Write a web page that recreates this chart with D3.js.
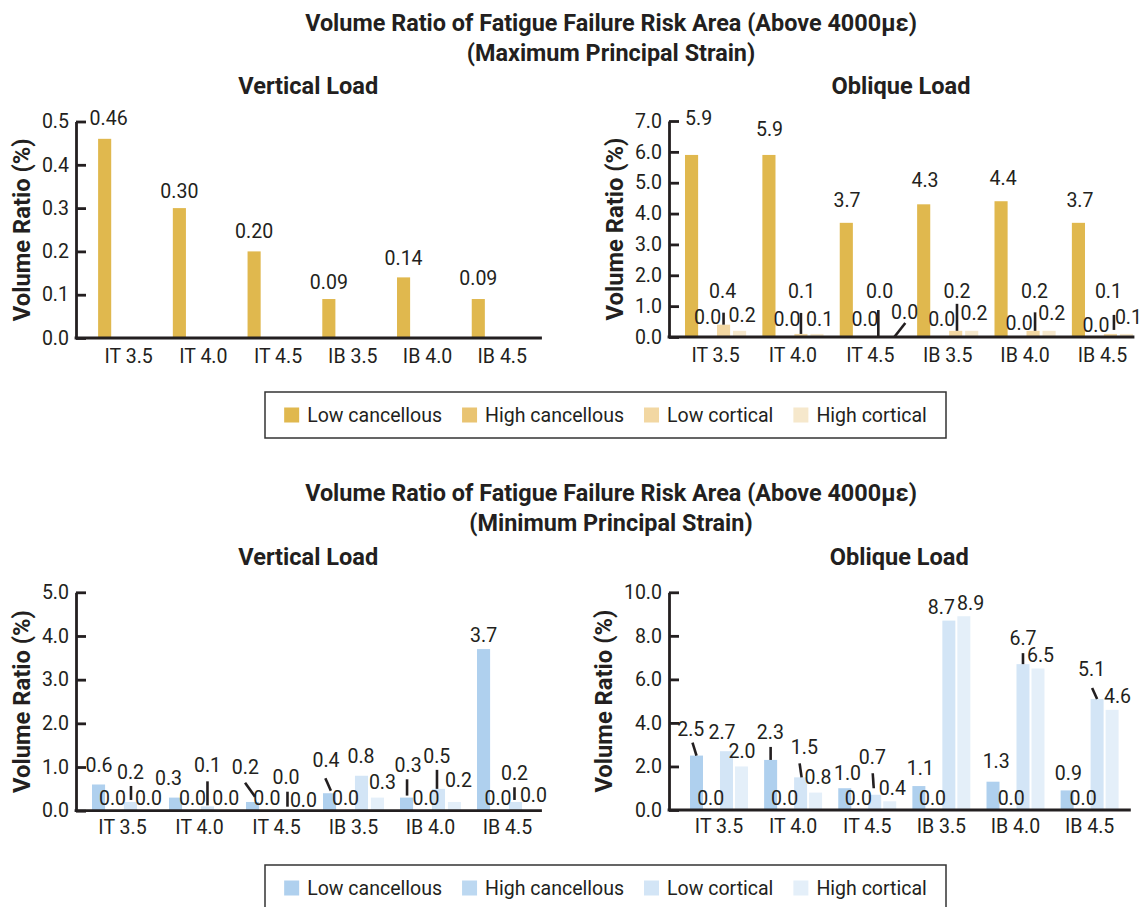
<!DOCTYPE html>
<html>
<head>
<meta charset="utf-8">
<script src="https://cdn.jsdelivr.net/npm/d3@7"></script>
<style>
  html, body { margin: 0; padding: 0; background: #fff; }
  svg { display: block; }
  text { font-family: Roboto, "Noto Sans", sans-serif; fill: #231f20; }
</style>
</head>
<body>
<svg id="fig" width="1143" height="907"></svg>
<script>
// ---------- data ----------
const categories = ["IT 3.5", "IT 4.0", "IT 4.5", "IB 3.5", "IB 4.0", "IB 4.5"];
const seriesNames = ["Low cancellous", "High cancellous", "Low cortical", "High cortical"];

// Maximum principal strain, vertical load (only low cancellous reported)
const maxVertLowCanc  = [0.46, 0.30, 0.20, 0.09, 0.14, 0.09];
const maxVertHighCanc = [null, null, null, null, null, null];
const maxVertLowCort  = [null, null, null, null, null, null];
const maxVertHighCort = [null, null, null, null, null, null];

// Maximum principal strain, oblique load
const maxOblLowCanc  = [5.9, 5.9, 3.7, 4.3, 4.4, 3.7];
const maxOblHighCanc = [0.0, 0.0, 0.0, 0.0, 0.0, 0.0];
const maxOblLowCort  = [0.4, 0.1, 0.0, 0.2, 0.2, 0.1];
const maxOblHighCort = [0.2, 0.1, 0.0, 0.2, 0.2, 0.1];

// Minimum principal strain, vertical load
const minVertLowCanc  = [0.6, 0.3, 0.2, 0.4, 0.3, 3.7];
const minVertHighCanc = [0.0, 0.0, 0.0, 0.0, 0.0, 0.0];
const minVertLowCort  = [0.2, 0.1, 0.0, 0.8, 0.5, 0.2];
const minVertHighCort = [0.0, 0.0, 0.0, 0.3, 0.2, 0.0];

// Minimum principal strain, oblique load
const minOblLowCanc  = [2.5, 2.3, 1.0, 1.1, 1.3, 0.9];
const minOblHighCanc = [0.0, 0.0, 0.0, 0.0, 0.0, 0.0];
const minOblLowCort  = [2.7, 1.5, 0.7, 8.7, 6.7, 5.1];
const minOblHighCort = [2.0, 0.8, 0.4, 8.9, 6.5, 4.6];

// ---------- value-label placement ----------
// per category, per series: [dx, dy] from the bar-top centre,
// optionally followed by a leader line [x1, y1, x2, y2] in the same frame
const maxVertLabelPos = [
  [[4, -20.5], null, null, null],
  [[0, -17.4], null, null, null],
  [[0, -20.4], null, null, null],
  [[0, -17.3], null, null, null],
  [[0, -19.0], null, null, null],
  [[0, -20.7], null, null, null]
];
const maxOblLabelPos = [
  [[7, -36.7], [0, -20.3], [-1, -33.7, 0, -12, 0, 0], [2.5, -15.8]],
  [[0.6, -25.7], [2, -17.7], [0.7, -42.9, 0, -21, 0, 0], [2.7, -14.6]],
  [[0.7, -22.8], [2.7, -17.7], [1.3, -46, 0, -27, 0, 0], [10.3, -25.3, 11, -14, 0, 0]],
  [[1.3, -24.3], [2, -17.7], [1.3, -39.8, 1.3, -27, 1.3, 0], [2.3, -18.1]],
  [[2, -22.9], [2, -13.7], [1.4, -39.8, 2, -18.5, 2, 0], [2.7, -18.1]],
  [[1.5, -22.8], [1.5, -12], [-2, -42.9, 3.5, -19, 3.5, -4], [2, -17.2]]
];
const minVertLabelPos = [
  [[0.5, -19.5], [-2, -12.4], [0, -30.3, 0.5, -16, 0.5, -2], [2, -12.4]],
  [[-7, -19.3], [1, -12.4], [0, -41.3, 0, -25, 0, -1], [2.3, -12.4]],
  [[-7.2, -35.3, -7.5, -19.3, 2.5, -5.3], [-1.7, -12.4], [1.5, -34, 3, -19, 3, -4], [3, -10.7]],
  [[-3.5, -33.2, -4.2, -14.9, 1.3, -2.5], [0, -12.4], [-0.5, -20], [5, -15]],
  [[1.5, -32.6, 0.5, -18.3, 0.5, -2], [3.5, -12.4], [-1.7, -32.9, -1.5, -19, -1.5, 0], [4, -22]],
  [[0, -14], [-1.5, -12.4], [-1, -28.7, -1, -14.7, -1, -2], [2, -15.7]]
];
const minOblLabelPos = [
  [[-5.7, -26.6, -4, -13, 0, 0], [-0.8, -11.7], [-4.5, -19.5], [0.5, -15.8]],
  [[-0.3, -28.2, 0, -13, 0, 0], [-1, -11.7], [3.8, -30, -1, -14, 1, 0], [2.4, -15.3]],
  [[2.8, -14.9], [-1.4, -11.7], [-2.4, -38.1, -2, -21.5, -1, -6.5], [2.7, -13]],
  [[1.5, -18.3], [-1.4, -11.7], [-7.5, -13], [6.8, -13]],
  [[3.2, -21], [3.2, -11.7], [0, -25.8, 0, -11, 0, 0], [2.5, -13]],
  [[1.2, -17.1], [1, -11.7], [-5.5, -29.7, -5, -11, 0, 0], [5.4, -13.2]]
];

// ---------- styles ----------
const INK = "#231f20";
const goldPalette = ["#e0b84e", "#e9c472", "#f2d7a2", "#f6e8cc"];
const bluePalette = ["#afd0ee", "#bcd8f1", "#d3e5f6", "#e4eff9"];
const headline = "Volume Ratio of Fatigue Failure Risk Area (Above 4000\u03bc\u03b5)";

const svg = d3.select("#fig");

function measure(str, weight, size) {
  const t = svg.append("text").attr("font-weight", weight).attr("font-size", size).text(str);
  const w = t.node().getComputedTextLength();
  t.remove();
  return w;
}
const regSize = 20 * 135 / measure("Low cancellous", 400, 20);
const panelTitleSize = 20 * 140 / measure("Vertical Load", 700, 20);
const headSize = 20 * 612 / measure(headline, 700, 20);
const yTitleSize = 20 * 183 / measure("Volume Ratio (%)", 700, 20);

// ---------- panels ----------
const panels = [
  { title: "Vertical Load", series: [maxVertLowCanc, maxVertHighCanc, maxVertLowCort, maxVertHighCort],
    palette: goldPalette, yMax: 0.5, nTicks: 5, valueFmt: ".2f", labelPos: maxVertLabelPos,
    axisX: 76, axisEnd: 540.5, y0: 338, yTop: 121.5, band: [98.1, 532.8], padInner: 0.183, subPad: 0.18,
    titleY: 86, catDy: 18, yTitleDx: -54 },
  { title: "Oblique Load", series: [maxOblLowCanc, maxOblHighCanc, maxOblLowCort, maxOblHighCort],
    palette: goldPalette, yMax: 7, nTicks: 7, valueFmt: ".1f", labelPos: maxOblLabelPos,
    axisX: 669, axisEnd: 1133, y0: 337, yTop: 121, band: [685, 1133], padInner: 0.21, subPad: 0.18,
    titleY: 86, catDy: 18, yTitleDx: -54 },
  { title: "Vertical Load", series: [minVertLowCanc, minVertHighCanc, minVertLowCort, minVertHighCort],
    palette: bluePalette, yMax: 5, nTicks: 5, valueFmt: ".1f", labelPos: minVertLabelPos,
    axisX: 76, axisEnd: 540.5, y0: 810.7, yTop: 592.3, band: [92, 538], padInner: 0.208, subPad: 0.18,
    titleY: 557, catDy: 16, yTitleDx: -54 },
  { title: "Oblique Load", series: [minOblLowCanc, minOblHighCanc, minOblLowCort, minOblHighCort],
    palette: bluePalette, yMax: 10, nTicks: 5, valueFmt: ".1f", labelPos: minOblLabelPos,
    axisX: 669, axisEnd: 1129.4, y0: 810, yTop: 592.3, band: [690, 1118.6], padInner: 0.218, subPad: 0.133,
    titleY: 557, catDy: 16, yTitleDx: -65 }
];

panels.forEach(p => {
  const g = svg.append("g");
  const y = d3.scaleLinear().domain([0, p.yMax]).range([p.y0, p.yTop]);
  const x0 = d3.scaleBand().domain(categories).range(p.band).paddingInner(p.padInner).paddingOuter(0);
  const x1 = d3.scaleBand().domain(seriesNames).range([0, x0.bandwidth()]).paddingInner(p.subPad).paddingOuter(0);
  const fmt = d3.format(p.valueFmt);

  // panel title
  g.append("text")
    .attr("x", (p.axisX + p.axisEnd) / 2).attr("y", p.titleY).attr("dy", "0.35em")
    .attr("text-anchor", "middle").attr("font-weight", 700).attr("font-size", panelTitleSize)
    .text(p.title);

  // bars
  const rows = categories.map((cat, i) => ({ cat, i, vals: p.series.map(s => s[i]) }));
  const groups = g.selectAll("g.grp").data(rows).join("g")
    .attr("class", "grp").attr("transform", d => `translate(${x0(d.cat)},0)`);
  groups.selectAll("rect")
    .data(d => d.vals.map((v, j) => ({ v, j })).filter(e => e.v != null))
    .join("rect")
    .attr("x", e => x1(seriesNames[e.j]))
    .attr("y", e => y(e.v))
    .attr("width", x1.bandwidth())
    .attr("height", e => y(0) - y(e.v))
    .attr("fill", e => p.palette[e.j]);

  // y axis (ticks point inward)
  const yAxis = d3.axisLeft(y).ticks(p.nTicks).tickFormat(d3.format(".1f"))
    .tickSizeInner(-10).tickSizeOuter(0).tickPadding(7);
  const ya = g.append("g").attr("transform", `translate(${p.axisX},0)`).call(yAxis);
  ya.selectAll("path.domain").attr("stroke", INK).attr("stroke-width", 2.8);
  ya.selectAll(".tick line").attr("stroke", INK).attr("stroke-width", 2.8);
  ya.selectAll(".tick text").attr("fill", INK).attr("font-size", regSize)
    .attr("font-family", "Roboto, 'Noto Sans', sans-serif");

  // x baseline
  g.append("line")
    .attr("x1", p.axisX).attr("x2", p.axisEnd).attr("y1", y(0)).attr("y2", y(0))
    .attr("stroke", INK).attr("stroke-width", 2.8).attr("stroke-linecap", "square");

  // category labels
  const xAxis = d3.axisBottom(x0).tickSize(0).tickPadding(0);
  const xa = g.append("g").attr("transform", `translate(0,${y(0) + p.catDy})`).call(xAxis);
  xa.select("path.domain").remove();
  xa.selectAll(".tick text").attr("fill", INK).attr("font-size", regSize).attr("dy", "0.35em")
    .attr("font-family", "Roboto, 'Noto Sans', sans-serif");

  // y axis title
  g.append("text")
    .attr("transform", `translate(${p.axisX + p.yTitleDx},${(p.y0 + p.yTop) / 2}) rotate(-90)`)
    .attr("dy", "0.35em").attr("text-anchor", "middle")
    .attr("font-weight", 700).attr("font-size", yTitleSize)
    .text("Volume Ratio (%)");

  // value labels and leader lines
  rows.forEach(r => {
    r.vals.forEach((v, j) => {
      const pos = p.labelPos[r.i][j];
      if (v == null || !pos) return;
      const cx = x0(r.cat) + x1(seriesNames[j]) + x1.bandwidth() / 2;
      const cy = y(v);
      if (pos.length === 6) {
        g.append("line")
          .attr("x1", cx + pos[2]).attr("y1", cy + pos[3])
          .attr("x2", cx + pos[4]).attr("y2", cy + pos[5])
          .attr("stroke", INK).attr("stroke-width", 2.6);
      }
      g.append("text")
        .attr("x", cx + pos[0]).attr("y", cy + pos[1]).attr("dy", "0.35em")
        .attr("text-anchor", "middle").attr("font-size", regSize)
        .text(fmt(v));
    });
  });
});

// ---------- headings ----------
function heading(yLine1, subtitle) {
  svg.append("text").attr("x", 611).attr("y", yLine1).attr("dy", "0.35em")
    .attr("text-anchor", "middle").attr("font-weight", 700).attr("font-size", headSize)
    .text(headline);
  svg.append("text").attr("x", 611).attr("y", yLine1 + 30).attr("dy", "0.35em")
    .attr("text-anchor", "middle").attr("font-weight", 700).attr("font-size", headSize)
    .text(subtitle);
}
heading(22.5, "(Maximum Principal Strain)");
heading(493, "(Minimum Principal Strain)");

// ---------- legends ----------
function legend(top, palette) {
  const left = 265, right = 946, h = 46;
  const lg = svg.append("g");
  lg.append("rect").attr("x", left).attr("y", top).attr("width", right - left).attr("height", h)
    .attr("fill", "none").attr("stroke", "#333").attr("stroke-width", 1.5);
  const sw = 15, gap = 8, itemGap = 20;
  const widths = seriesNames.map(s => measure(s, 400, regSize));
  const total = d3.sum(widths) + seriesNames.length * (sw + gap) + (seriesNames.length - 1) * itemGap;
  let xPos = (left + right) / 2 - total / 2;
  const cy = top + h / 2;
  seriesNames.forEach((s, j) => {
    lg.append("rect").attr("x", xPos).attr("y", cy - sw / 2).attr("width", sw).attr("height", sw)
      .attr("fill", palette[j]);
    lg.append("text").attr("x", xPos + sw + gap).attr("y", cy).attr("dy", "0.35em")
      .attr("font-size", regSize).text(s);
    xPos += sw + gap + widths[j] + itemGap;
  });
}
legend(392, goldPalette);
legend(865, bluePalette);
</script>
</body>
</html>
